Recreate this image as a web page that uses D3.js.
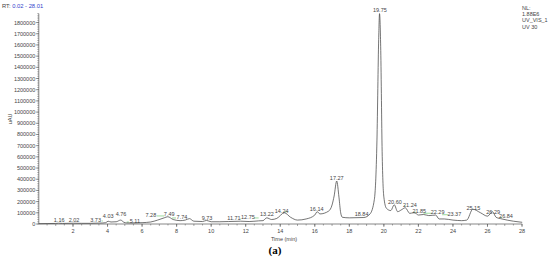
<!DOCTYPE html>
<html>
<head>
<meta charset="utf-8">
<script src="https://cdn.jsdelivr.net/npm/d3@7"></script>
<style>
  body { margin: 0; background: #fff; }
  svg { display: block; font-family: "Liberation Sans", Arial, sans-serif; }
</style>
</head>
<body>
<div class="container"></div>
<script>
// retention time (min) and UV signal (uAU)
const times = [0.02, 0.5, 1.0, 1.16, 1.4, 2.02, 2.5, 3.0, 3.73, 3.9, 4.03, 4.2, 4.5, 4.76, 4.95,
  5.11, 5.5, 6.0, 6.5, 6.9, 7.28, 7.49, 7.8, 8.2, 8.5, 8.74, 9.0, 9.5, 9.73, 10.0, 10.5, 11.0,
  11.71, 12.2, 12.75, 13.0, 13.22, 13.5, 13.8, 14.24, 14.6, 15.0, 15.5, 16.0, 16.14, 16.3,
  16.8, 17.0, 17.12, 17.27, 17.4, 17.5, 17.6, 18.0, 18.84, 19.2, 19.45, 19.6, 19.7, 19.75,
  19.82, 19.9, 20.0, 20.15, 20.4, 20.6, 20.8, 21.0, 21.24, 21.5, 21.7, 21.85, 22.0, 22.3,
  22.6, 23.0, 23.2, 23.5, 24.0, 24.5, 24.8, 25.15, 25.6, 26.0, 26.29, 26.5, 26.84, 27.5, 28.01];
const signal = [3000, 4000, 5000, 7000, 5000, 7000, 6000, 6000, 9000, 12000, 25000, 18000, 20000, 35000, 15000,
  10000, 9000, 12000, 18000, 35000, 55000, 65000, 40000, 30000, 35000, 48000, 25000, 22000, 32000, 20000, 20000, 22000,
  25000, 22000, 28000, 30000, 55000, 40000, 50000, 100000, 60000, 35000, 45000, 80000, 110000, 90000,
  115000, 170000, 250000, 384000, 240000, 100000, 60000, 55000, 58000, 90000, 220000, 750000, 1650000, 1880000,
  1550000, 650000, 240000, 140000, 120000, 172000, 110000, 125000, 145000, 95000, 100000, 95000, 80000, 85000,
  75000, 80000, 45000, 45000, 35000, 30000, 35000, 132000, 100000, 70000, 110000, 60000, 45000, 25000, 15000];

// peak labels: retention time, label centre (min) and label height (uAU)
const peakRT = [1.16, 2.02, 3.73, 4.03, 4.76, 5.11, 7.28, 7.49, 7.74, 9.73, 11.71, 12.75, 13.22,
  14.24, 16.14, 17.27, 18.84, 19.75, 20.60, 21.24, 21.85, 22.29, 23.37, 25.15, 26.29, 26.84];
const labelT = [1.2, 2.06, 3.31, 4.04, 4.78, 5.58, 6.51, 7.57, 8.31, 9.76, 11.32, 12.13, 13.23,
  14.08, 16.11, 17.27, 18.71, 19.77, 20.64, 21.51, 22.05, 23.11, 24.08, 25.18, 26.33, 27.07];
const labelI = [18000, 18000, 18000, 54000, 72000, 9000, 63000, 72000, 45000, 38000, 36000, 45000, 72000,
  101000, 119000, 393000, 69000, 1892000, 176000, 155000, 96000, 87000, 74000, 128000, 92000, 51000];

const yTicks = d3.range(0, 1800001, 100000);
const xTicks = [2, 4, 6, 8, 10, 12, 14, 16, 18, 20, 22, 24, 26, 28];
const infoLines = ['NL:', '1.88E6', 'UV_VIS_1', 'UV 30'];

const W = 550, H = 258;
const svg = d3.select('.container').append('svg')
  .attr('width', W).attr('height', H);

const x = d3.scaleLinear().domain([0.02, 28.01]).range([38.8, 522.2]);
const y = d3.scaleLinear().domain([0, 1880000]).range([224, 13.6]);
const axisColor = '#555';
const textColor = '#444';

// y axis
const yAxis = svg.append('g').attr('transform', `translate(${x(0.02)},0)`);
yAxis.append('line').attr('y1', y(0)).attr('y2', y(1880000)).attr('stroke', axisColor).attr('stroke-width', 0.7);
yAxis.selectAll('.minor').data(d3.range(0, 1880001, 20000)).enter().append('line')
  .attr('x1', -1.5).attr('x2', 0).attr('y1', d => y(d)).attr('y2', d => y(d))
  .attr('stroke', axisColor).attr('stroke-width', 0.5);
yAxis.selectAll('.major').data(yTicks).enter().append('line')
  .attr('x1', -3).attr('x2', 0).attr('y1', d => y(d)).attr('y2', d => y(d))
  .attr('stroke', axisColor).attr('stroke-width', 0.6);
yAxis.selectAll('text').data(yTicks).enter().append('text')
  .attr('x', -3.5).attr('y', d => y(d) + 2)
  .attr('text-anchor', 'end').style('font-size', '5.5px').attr('fill', textColor)
  .text(d => d);

// x axis
const xAxis = svg.append('g').attr('transform', `translate(0,${y(0)})`);
xAxis.append('line').attr('x1', x(0.02)).attr('x2', x(28.01)).attr('stroke', axisColor).attr('stroke-width', 0.7);
xAxis.selectAll('.minor').data(d3.range(0.5, 28.01, 0.5)).enter().append('line')
  .attr('x1', d => x(d)).attr('x2', d => x(d)).attr('y1', 0).attr('y2', d => d % 1 === 0 ? 2 : 1.5)
  .attr('stroke', axisColor).attr('stroke-width', 0.5);
xAxis.selectAll('.major').data(xTicks).enter().append('line')
  .attr('x1', d => x(d)).attr('x2', d => x(d)).attr('y1', 0).attr('y2', 3)
  .attr('stroke', axisColor).attr('stroke-width', 0.6);
xAxis.selectAll('text').data(xTicks).enter().append('text')
  .attr('x', d => x(d)).attr('y', 9)
  .attr('text-anchor', 'middle').style('font-size', '5.5px').attr('fill', textColor)
  .text(d => d);

svg.append('text').attr('x', 284).attr('y', 241).attr('text-anchor', 'middle')
  .style('font-size', '5.5px').attr('fill', textColor).text('Time (min)');
svg.append('text').attr('transform', 'translate(12,119) rotate(-90)').attr('text-anchor', 'middle')
  .style('font-size', '5.5px').attr('fill', textColor).text('uAU');

// header texts
const rt = svg.append('text').attr('x', 2).attr('y', 8).style('font-size', '5.8px');
rt.append('tspan').attr('fill', textColor).text('RT: ');
rt.append('tspan').attr('fill', '#3344cc').text('0.02 - 28.01');
svg.append('g').selectAll('text').data(infoLines).enter().append('text')
  .attr('x', 522).attr('y', (d, i) => 10 + i * 6.2)
  .style('font-size', '5.5px').attr('fill', textColor).text(d => d);

// leader lines for shifted labels
const labels = peakRT.map((p, i) => ({rt: p, t: labelT[i], v: labelI[i]}));
svg.append('g').selectAll('line').data(labels.filter(d => Math.abs(d.t - d.rt) > 0.15)).enter().append('line')
  .attr('x1', d => x(d.t) + (d.rt > d.t ? 6 : -6)).attr('x2', d => x(d.rt))
  .attr('y1', d => y(d.v) - 1).attr('y2', d => y(d.v) - 1)
  .attr('stroke', '#5cc35c').attr('stroke-width', 0.6);

// trace
svg.append('path')
  .datum(times.map((t, i) => [t, signal[i]]))
  .attr('fill', 'none').attr('stroke', '#3a3a3a').attr('stroke-width', 0.7)
  .attr('d', d3.line().x(d => x(d[0])).y(d => y(d[1])).curve(d3.curveMonotoneX));

// peak labels
svg.append('g').selectAll('text').data(labels).enter().append('text')
  .attr('x', d => x(d.t)).attr('y', d => y(d.v))
  .attr('text-anchor', 'middle').style('font-size', '5.5px').attr('fill', textColor)
  .text(d => d.rt.toFixed(2));

svg.append('text').attr('x', 275).attr('y', 254).attr('text-anchor', 'middle')
  .style('font-family', '"Liberation Serif", serif').style('font-size', '11px').style('font-weight', 'bold')
  .text('(a)');
</script>
</body>
</html>
